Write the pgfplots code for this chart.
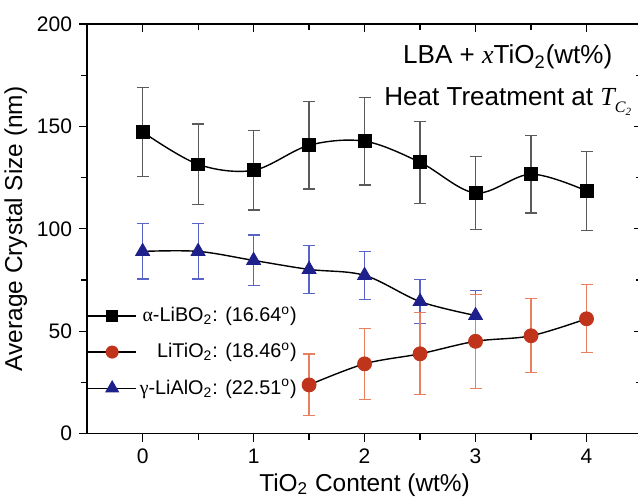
\documentclass[border=0pt]{standalone}
\usepackage{pgfplots}
\pgfplotsset{compat=1.18}
\usepackage{fontspec}
\setmainfont{Liberation Sans}
\newfontfamily\serifit{Liberation Serif}[ItalicFont=* Italic]
\usetikzlibrary{calc}

\definecolor{navy}{RGB}{30,32,140}
\definecolor{navybar}{RGB}{90,100,200}
\definecolor{rust}{RGB}{192,52,28}
\definecolor{rustbar}{RGB}{232,128,96}
\definecolor{greybar}{RGB}{90,90,90}

\pgfplotsset{
  common/.style={
    scale only axis, width=277pt, height=204.5pt,
    xmin=-0.5, xmax=4.5, ymin=0, ymax=200,
    xtick={0,1,2,3,4}, ytick={0,50,100,150,200},
    minor x tick num=1, minor y tick num=1,
    major tick length=4pt, minor tick length=3pt,
    every tick/.style={black, line width=0.6pt},
    axis line style={line width=0.8pt},
  },
}

\begin{document}
\begin{tikzpicture}
\begin{axis}[common, name=ax,
  axis x line*=bottom, axis y line*=left, tick align=outside,
  axis line style={-, line width=0.8pt},
  ticklabel style={font=\fontsize{10.5}{12}\selectfont},
  /pgf/number format/assume math mode=true,
  xlabel={TiO\textsubscript{2} Content (wt\%)},
  ylabel={Average Crystal Size (nm)},
  label style={font=\fontsize{12.2}{14}\selectfont},
  xlabel style={yshift=2pt},
  ylabel style={yshift=-2pt},
  legend style={at={(axis cs:-0.5,63.5)}, anchor=north west, draw=none, fill=none,
    inner sep=0pt, row sep=6.2pt, font=\fontsize{9.9}{12}\selectfont,
    nodes={inner sep=1.5pt}},
  legend cell align=right,
  legend image code/.code={\draw[mark repeat=2,mark phase=2,#1]
    plot coordinates {(0cm,0cm)(0.42cm,0cm)(0.84cm,0cm)};},
]
% fitted curves
\addplot[black, line width=0.7pt, smooth, tension=0.55, forget plot] coordinates {
  (0,147.3) (0.5,131.5) (1,128.6) (1.5,140.8) (2,142.8) (2.5,132.5) (3,117.5) (3.5,126.7) (4,118.5)
};
\addplot[black, line width=0.7pt, smooth, tension=0.55, forget plot] coordinates {
  (0,89) (0.5,89) (1,84.6) (1.5,80.2) (2,77.3) (2.5,64.5) (3,57.7)
};
\addplot[black, line width=0.7pt, smooth, tension=0.55, forget plot] coordinates {
  (1.5,23.8) (2,34.1) (2.5,39) (3,45.1) (3.5,47.8) (4,56.1)
};

% alpha-LiBO2
\addplot[only marks, mark=square*, mark size=3.2pt, black, forget plot,
  error bars/.cd, y dir=both, y explicit,
  error bar style={greybar, line width=0.6pt},
  error mark options={rotate=90, mark size=3pt, greybar, line width=0.6pt}]
coordinates {
  (0,147.3) +- (0,21.6)
  (0.5,131.5) +- (0,19.7)
  (1,128.6) +- (0,19.4)
  (1.5,140.8) +- (0,21.3)
  (2,142.8) +- (0,21.4)
  (2.5,132.5) +- (0,20.1)
  (3,117.5) +- (0,17.8)
  (3.5,126.7) +- (0,19)
  (4,118.5) +- (0,19.3)
};
% gamma-LiAlO2
\addplot[only marks, mark=triangle*, mark size=4pt, navy, forget plot,
  error bars/.cd, y dir=both, y explicit,
  error bar style={navybar, line width=0.6pt},
  error mark options={rotate=90, mark size=3pt, navybar, line width=0.6pt}]
coordinates {
  (0,89) +- (0,13.5)
  (0.5,89) +- (0,13.5)
  (1,84.6) +- (0,12.4)
  (1.5,80.2) +- (0,11.8)
  (2,77.3) +- (0,11.6)
  (2.5,64.5) +- (0,10.6)
  (3,57.7) +- (0,12.2)
};
% LiTiO2
\addplot[only marks, mark=*, mark size=3.5pt, rust, forget plot,
  error bars/.cd, y dir=both, y explicit,
  error bar style={rustbar, line width=0.6pt},
  error mark options={rotate=90, mark size=3pt, rustbar, line width=0.6pt}]
coordinates {
  (1.5,23.8) +- (0,15.1)
  (2,34.1) +- (0,17.3)
  (2.5,39) +- (0,20)
  (3,45.1) +- (0,23)
  (3.5,47.8) +- (0,18.1)
  (4,56.1) +- (0,16.6)
};

\addlegendimage{black, line width=0.7pt, mark=square*, mark size=2.6pt, mark options={black}}
\addlegendentry{{\serifit α}-LiBO\textsubscript{2}: (16.64\textsuperscript{o})}
\addlegendimage{black, line width=0.7pt, mark=*, mark size=2.9pt, mark options={rust}}
\addlegendentry{LiTiO\textsubscript{2}: (18.46\textsuperscript{o})}
\addlegendimage{black, line width=0.7pt, mark=triangle*, mark size=3.4pt, mark options={navy}}
\addlegendentry{{\serifit γ}-LiAlO\textsubscript{2}: (22.51\textsuperscript{o})}

\node[align=center, font=\fontsize{13}{21}\selectfont] at (axis cs:3.29,172.5)
  {LBA + {\serifit\itshape x}TiO\textsubscript{2}(wt\%)\\
   Heat Treatment at {\serifit\itshape T}\raisebox{-0.5ex}{\fontsize{8}{9}\selectfont\serifit\itshape C\raisebox{-0.4ex}{\fontsize{5.5}{6}\selectfont 2}}};
\end{axis}
\begin{axis}[common,
  axis x line*=top, axis y line*=right, tick align=inside,
  xticklabels={}, yticklabels={},
  axis line style={-, line width=0.8pt},
]
\end{axis}
\pgfresetboundingbox
\path ([xshift=-43.5pt,yshift=-33.5pt]ax.south west) rectangle ([xshift=-2pt,yshift=12pt]ax.north east);
\end{tikzpicture}
\end{document}
